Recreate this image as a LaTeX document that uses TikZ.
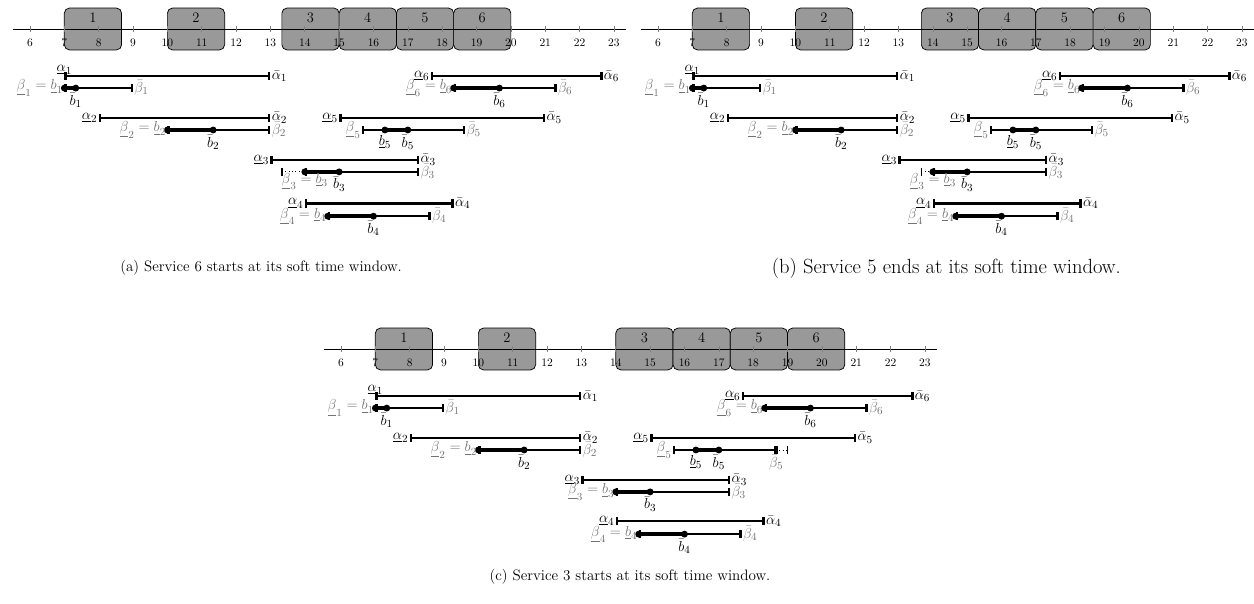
\documentclass[tikz,border=0pt]{standalone}
\usepackage{amsmath}
\usetikzlibrary{arrows.meta,positioning}

\definecolor{betagray}{gray}{0.45}

% axis with hour ticks
\newcommand{\timeline}[1]{%
  \draw[line width=0.6pt] (5.5,0) coordinate (#1-t0) -- (23.35,0) coordinate (#1-t1);
  \foreach \h in {6,...,23} {
    \draw[tickmark] (\h,0.09) -- (\h,-0.09);
    \node[ticklab] (#1-h\h) at (\h,-0.41) {\h};
  }}
% service boxes (start times)
\newcommand{\jobs}[2]{%
  \foreach \s [count=\n] in {#2} {
    \node[job] (#1-job\n) at (\s+0.8333,0) {};
  }}
\newcommand{\jobnums}[1]{%
  \foreach \n in {1,...,6} {
    \node[jobnum] (#1-num\n) at ([yshift=0.32cm]#1-job\n.center) {\n};
  }}
% hard window: [label pos]{panel}{service}{y}{start}{end}
\newcommand{\awin}[6][left]{%
  \draw[win] (#5,#4) coordinate (#2-a#3s) -- (#6,#4) coordinate (#2-a#3e);
  \node[lab, #1] (#2-alpha#3) at (#2-a#3s) {$\underline{\alpha}_#3$};
  \node[lab, right] (#2-alphabar#3) at (#2-a#3e) {$\bar{\alpha}_#3$};
}
% soft window: [label pos]{panel}{service}{y}{start}{b}{bbar}{end}
\newcommand{\bwin}[8][right]{%
  \draw[win] (#5,#4) coordinate (#2-b#3s) -- (#8,#4) coordinate (#2-b#3e);
  \draw[hot] (#6,#4) coordinate (#2-b#3b) -- (#7,#4) coordinate (#2-b#3m);
  \fill (#2-b#3b) circle[radius=0.1];
  \fill (#2-b#3m) circle[radius=0.1];
  \node[lab, below=3pt] (#2-bbar#3) at (#2-b#3m) {$\bar{b}_#3$};
  \node[blab, #1] (#2-betabar#3) at (#2-b#3e) {$\bar{\beta}_#3$};
}

\begin{document}
\begin{tikzpicture}[
    job/.style={draw=black, fill=gray!80, rounded corners=0.15cm, line width=0.6pt,
      minimum width=1.667cm, minimum height=1.22cm, inner sep=0pt},
    jobnum/.style={font=\fontsize{12}{14}\selectfont, inner sep=0pt},
    tickmark/.style={gray, line width=0.5pt},
    ticklab/.style={font=\fontsize{9.5}{11}\selectfont, inner sep=0pt},
    win/.style={line width=2pt, {Bar[width=0.24cm]}-{Bar[width=0.24cm]}},
    hot/.style={line width=3.6pt},
    lab/.style={font=\fontsize{13}{15}\selectfont, inner sep=1pt},
    blab/.style={lab, text=betagray},
    gap/.style={dotted, line width=0.8pt},
    capt/.style={font=\fontsize{12.5}{15}\selectfont}]
  \useasboundingbox (0,0) rectangle (36.507,-17.555);

  % (a)
  \begin{scope}[shift={(-5.127,-0.844)}]
    \jobs{a}{7,10,13.333,15,16.667,18.333}
    \timeline{a}
    \jobnums{a}
    % service 1
    \awin[above]{a}{1}{-1.37}{7}{13}
    \bwin{a}{1}{-1.72}{7}{7}{7.333}{9}
    \node[blab, left] (a-beta1) at (a-b1s) {$\underline{\beta}_1 = \underline{b}_1$};
    % service 2
    \awin{a}{2}{-2.59}{8}{13}
    \bwin{a}{2}{-2.94}{10}{10}{11.333}{13}
    \node[blab, left] (a-beta2) at (a-b2s) {$\underline{\beta}_2 = \underline{b}_2$};
    % service 3
    \awin{a}{3}{-3.81}{13}{17.333}
    \bwin{a}{3}{-4.16}{14}{14}{15}{17.333}
    \coordinate (a-b3d) at (13.333,-4.16);
    \draw[gap] (a-b3d) -- (a-b3s);
    \draw[line width=1.2pt] ([yshift=0.12cm]a-b3d) -- ([yshift=-0.12cm]a-b3d);
    \node[blab, below=0pt] (a-beta3) at (a-b3s) {$\underline{\beta}_3 = \underline{b}_3$};
    % service 4
    \awin{a}{4}{-5.08}{14}{18.333}
    \bwin{a}{4}{-5.45}{14.667}{14.667}{16}{17.667}
    \node[blab, left] (a-beta4) at (a-b4s) {$\underline{\beta}_4 = \underline{b}_4$};
    % service 5
    \awin{a}{5}{-2.59}{15}{21}
    \bwin{a}{5}{-2.94}{15.667}{16.333}{17}{18.667}
    \node[blab, left] (a-beta5) at (a-b5s) {$\underline{\beta}_5$};
    \node[lab, below=3pt] (a-bund5) at (a-b5b) {$\underline{b}_5$};
    % service 6
    \awin{a}{6}{-1.37}{17.667}{22.667}
    \bwin{a}{6}{-1.72}{18.333}{18.333}{19.667}{21.333}
    \node[blab, left] (a-beta6) at (a-b6s) {$\underline{\beta}_6 = \underline{b}_6$};
  \end{scope}

  % (b)
  \begin{scope}[shift={(13.156,-0.844)}]
    \jobs{b}{7,10,13.667,15.333,17,18.667}
    \timeline{b}
    \jobnums{b}
    % service 1
    \awin[above]{b}{1}{-1.37}{7}{13}
    \bwin{b}{1}{-1.72}{7}{7}{7.333}{9}
    \node[blab, left] (b-beta1) at (b-b1s) {$\underline{\beta}_1 = \underline{b}_1$};
    % service 2
    \awin{b}{2}{-2.59}{8}{13}
    \bwin{b}{2}{-2.94}{10}{10}{11.333}{13}
    \node[blab, left] (b-beta2) at (b-b2s) {$\underline{\beta}_2 = \underline{b}_2$};
    % service 3
    \awin{b}{3}{-3.81}{13}{17.333}
    \bwin{b}{3}{-4.16}{14}{14}{15}{17.333}
    \coordinate (b-b3d) at (13.667,-4.16);
    \draw[gap] (b-b3d) -- (b-b3s);
    \draw[line width=1.2pt] ([yshift=0.12cm]b-b3d) -- ([yshift=-0.12cm]b-b3d);
    \node[blab, below=0pt] (b-beta3) at (b-b3s) {$\underline{\beta}_3 = \underline{b}_3$};
    % service 4
    \awin{b}{4}{-5.08}{14}{18.333}
    \bwin{b}{4}{-5.45}{14.667}{14.667}{16}{17.667}
    \node[blab, left] (b-beta4) at (b-b4s) {$\underline{\beta}_4 = \underline{b}_4$};
    % service 5
    \awin{b}{5}{-2.59}{15}{21}
    \bwin{b}{5}{-2.94}{15.667}{16.333}{17}{18.667}
    \node[blab, left] (b-beta5) at (b-b5s) {$\underline{\beta}_5$};
    \node[lab, below=3pt] (b-bund5) at (b-b5b) {$\underline{b}_5$};
    % service 6
    \awin{b}{6}{-1.37}{17.667}{22.667}
    \bwin{b}{6}{-1.72}{18.333}{18.333}{19.667}{21.333}
    \node[blab, left] (b-beta6) at (b-b6s) {$\underline{\beta}_6 = \underline{b}_6$};
  \end{scope}

  % (c)
  \begin{scope}[shift={(3.927,-10.16)}]
    \jobs{c}{7,10,14,15.667,17.333,19}
    \timeline{c}
    \jobnums{c}
    % service 1
    \awin[above]{c}{1}{-1.37}{7}{13}
    \bwin{c}{1}{-1.72}{7}{7}{7.333}{9}
    \node[blab, left] (c-beta1) at (c-b1s) {$\underline{\beta}_1 = \underline{b}_1$};
    % service 2
    \awin{c}{2}{-2.59}{8}{13}
    \bwin{c}{2}{-2.94}{10}{10}{11.333}{13}
    \node[blab, left] (c-beta2) at (c-b2s) {$\underline{\beta}_2 = \underline{b}_2$};
    % service 3
    \awin{c}{3}{-3.81}{13}{17.333}
    \bwin{c}{3}{-4.16}{14}{14}{15}{17.333}
    \node[blab, left] (c-beta3) at (c-b3s) {$\underline{\beta}_3 = \underline{b}_3$};
    % service 4
    \awin{c}{4}{-5.01}{14}{18.333}
    \bwin{c}{4}{-5.39}{14.667}{14.667}{16}{17.667}
    \node[blab, left] (c-beta4) at (c-b4s) {$\underline{\beta}_4 = \underline{b}_4$};
    % service 5
    \awin{c}{5}{-2.59}{15}{21}
    \bwin[below=3pt]{c}{5}{-2.94}{15.667}{16.333}{17}{18.667}
    \coordinate (c-b5d) at (19,-2.94);
    \draw[gap] (c-b5e) -- (c-b5d);
    \draw[line width=3pt] ([yshift=0.12cm]c-b5e) -- ([yshift=-0.12cm]c-b5e);
    \draw[line width=1.2pt] ([yshift=0.12cm]c-b5d) -- ([yshift=-0.12cm]c-b5d);
    \node[blab, left] (c-beta5) at (c-b5s) {$\underline{\beta}_5$};
    \node[lab, below=3pt] (c-bund5) at (c-b5b) {$\underline{b}_5$};
    % service 6
    \awin{c}{6}{-1.37}{17.667}{22.667}
    \bwin{c}{6}{-1.72}{18.333}{18.333}{19.667}{21.333}
    \node[blab, left] (c-beta6) at (c-b6s) {$\underline{\beta}_6 = \underline{b}_6$};
  \end{scope}

  % captions
  \node[capt] (capa) at (7.6,-7.80) {(a) Service 6 starts at its soft time window.};
  \node[capt, font=\fontsize{17}{20}\selectfont] (capb) at (27.55,-7.80) {(b) Service 5 ends at its soft time window.};
  \node[capt] (capc) at (18.34,-16.80) {(c) Service 3 starts at its soft time window.};
\end{tikzpicture}
\end{document}
